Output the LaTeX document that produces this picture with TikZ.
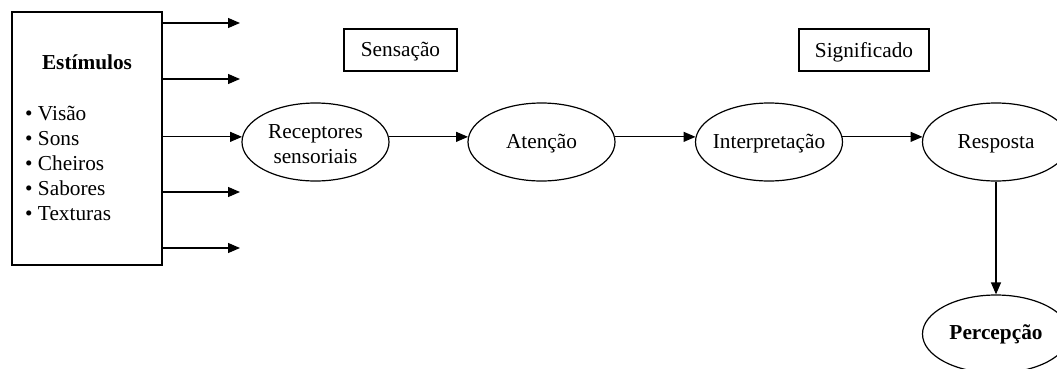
\documentclass[tikz,border=0pt]{standalone}
\usepackage{fontspec}
\setmainfont{Liberation Serif}
\usetikzlibrary{shapes.geometric,arrows.meta}
\newcommand\zw[1]{\makebox[0pt]{#1}}
\newcommand\dn[2]{\raisebox{-#1}[\height][\depth]{#2}}
\begin{document}
\begin{tikzpicture}[x=1pt,y=1pt,
  every node/.style={font=\fontsize{21.3}{25}\selectfont},
  ln/.style={line width=1.2pt},
  arr/.style={ln,-{Triangle[length=12pt,width=10pt]}},
  ell/.style={ellipse,draw,line width=1.2pt,minimum width=147pt,minimum height=78pt,inner sep=0pt},
  rbox/.style={rectangle,draw,line width=1.2pt,inner sep=0pt}]
\useasboundingbox (0,0) rectangle (1057,-369);
\clip (0,0) rectangle (1057,-369);
% stimuli box
\node[rbox,minimum width=150pt,minimum height=253pt] (stim) at (87,-138.5) {};
\node[inner sep=0pt] (title) at (87,-62) {\textbf{Estímulos}};
\node[inner sep=0pt,anchor=west,align=left] (list) at (25,-163)
  {• Visão\\• Sons\\• Cheiros\\• Sabores\\• Texturas};
% top boxes
\node[rbox,minimum width=113pt,minimum height=42pt] (sens) at (400.5,-50) {\dn{2pt}{Sensação}};
\node[rbox,minimum width=130pt,minimum height=42pt] (sig) at (864,-50) {\dn{2pt}{Significado}};
% ellipses
\node[ell] (rec) at (315.5,-142) {\zw{\dn{4pt}{\begin{tabular}{@{}c@{}}Receptores\\sensoriais\end{tabular}}}};
\node[ell] (aten) at (541.5,-142) {\zw{\dn{2pt}{Atenção}}};
\node[ell] (interp) at (769,-142) {\zw{\dn{2pt}{Interpretação}}};
\node[ell] (resp) at (996,-142) {\zw{\dn{2pt}{Resposta}}};
\node[ell] (perc) at (996,-334) {\zw{\textbf{Percepção}}};
% free arrow ends
\coordinate (a1) at (240,-23);
\coordinate (a2) at (240,-79);
\coordinate (a4) at (240,-192);
\coordinate (a5) at (240,-248);
\draw[arr] (stim.east |- a1) -- (a1);
\draw[arr] (stim.east |- a2) -- (a2);
\draw[arr] (stim.east |- rec.176) -- (rec.176);
\draw[arr] (stim.east |- a4) -- (a4);
\draw[arr] (stim.east |- a5) -- (a5);
\draw[arr] (rec.4) -- (aten.176);
\draw[arr] (aten.4) -- (interp.176);
\draw[arr] (interp.4) -- (resp.176);
\draw[arr] (resp.south) -- (perc.north);
\end{tikzpicture}
\end{document}
